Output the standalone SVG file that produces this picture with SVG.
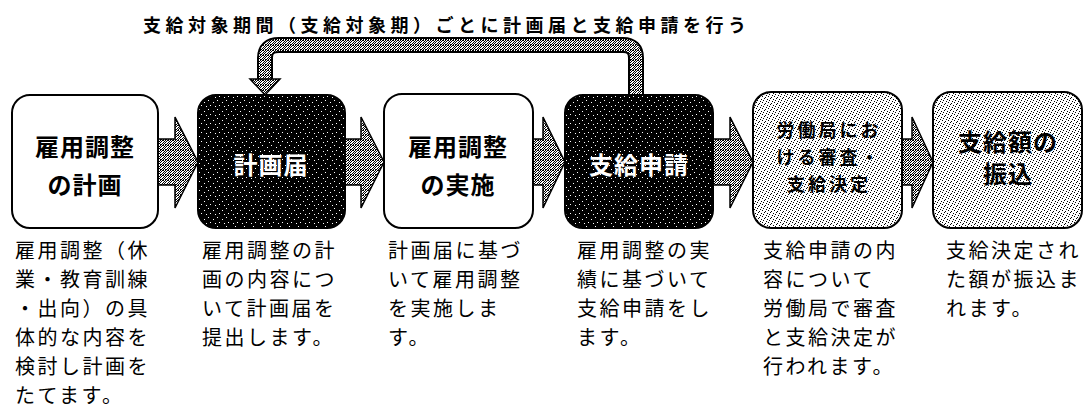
<svg xmlns="http://www.w3.org/2000/svg" width="1087" height="412" viewBox="0 0 1087 412">
<defs>
<pattern id="dense" width="5" height="5" patternUnits="userSpaceOnUse">
<rect width="5" height="5" fill="#fff"/>
<path d="M0 0h1v1h-1zM2 0h1v1h-1zM4 1h1v1h-1zM1 1h1v1h-1zM3 2h1v1h-1zM0 2h1v1h-1zM2 3h1v1h-1zM4 3h1v1h-1zM1 4h1v1h-1zM3 4h1v1h-1zM0 4h1v1h-1zM3 0h1v1h-1z" fill="#000"/>
</pattern>
<pattern id="light" width="6" height="6" patternUnits="userSpaceOnUse">
<rect width="6" height="6" fill="#fff"/>
<path d="M0 0h1v1h-1zM3 1h1v1h-1zM5 3h1v1h-1zM1 4h1v1h-1zM4 5h1v1h-1zM2 2h1v1h-1z" fill="#000"/>
</pattern>
<pattern id="darkp" width="9" height="9" patternUnits="userSpaceOnUse">
<rect width="9" height="9" fill="#000"/>
<path d="M1 1h1v1h-1zM6 3h1v1h-1zM3 6h1v1h-1zM8 7h1v1h-1z" fill="#fff"/>
</pattern>
<style>
.box{stroke:#000;stroke-width:2}
.w{fill:#fff}
.d{fill:url(#darkp)}
.l{fill:url(#light)}
.arr{fill:url(#dense);stroke:#000;stroke-width:1.5}
.lab{font-family:"Noto Sans CJK JP","Noto Sans CJK SC",sans-serif;font-weight:700;text-anchor:middle;dominant-baseline:central}
.big{font-size:24px;letter-spacing:1px}
.mid{font-size:18px;letter-spacing:3px}
.wt{fill:#fff}
.desc{font-family:"Noto Sans CJK JP","Noto Sans CJK SC",sans-serif;font-size:20px;letter-spacing:2.5px;dominant-baseline:central;fill:#000}
.title{font-family:"Noto Sans CJK JP","Noto Sans CJK SC",sans-serif;font-size:18px;font-weight:700;letter-spacing:4.5px;dominant-baseline:central}
</style>
</defs>
<rect width="1087" height="412" fill="#fff"/>
<text class="title" x="143" y="24">支給対象期間（支給対象期）ごとに計画届と支給申請を行う</text>
<g id="connectors">
<path d="M636 95 V58 Q636 45 623 45 H279 Q265 45 265 58 V80" fill="none" stroke="#000" stroke-width="16"/>
<path d="M636 96 V58 Q636 45 623 45 H279 Q265 45 265 58 V81" fill="none" stroke="url(#dense)" stroke-width="12"/>
<polygon class="arr" points="250,79 280,79 265,95"/>
<polygon class="arr" points="158,139 175,139 175,117 198,162 175,208 175,185 158,185"/>
<polygon class="arr" points="345,139 361,139 361,117 384,162 361,208 361,185 345,185"/>
<polygon class="arr" points="533,139 543,139 543,117 565,162 543,208 543,185 533,185"/>
<polygon class="arr" points="713,139 730,139 730,117 753,162 730,208 730,185 713,185"/>
<polygon class="arr" points="902,139 912,139 912,117 933,162 912,208 912,185 902,185"/>
</g>
<g id="n1"><rect class="box w" x="12" y="95" width="146" height="133" rx="18"/><text class="lab big" x="85" y="145">雇用調整</text><text class="lab big" x="85" y="183">の計画</text></g>
<g id="n2"><rect class="box d" x="198" y="95" width="147" height="133" rx="18"/><text class="lab big wt" x="271" y="163">計画届</text></g>
<g id="n3"><rect class="box w" x="384" y="94" width="149" height="134" rx="18"/><text class="lab big" x="458" y="145">雇用調整</text><text class="lab big" x="458" y="183">の実施</text></g>
<g id="n4"><rect class="box d" x="565" y="95" width="148" height="133" rx="18"/><text class="lab big wt" x="639" y="163">支給申請</text></g>
<g id="n5"><rect class="box l" x="753" y="92" width="149" height="136" rx="18"/><text class="lab mid" x="829" y="129">労働局にお</text><text class="lab mid" x="829" y="156">ける審査・</text><text class="lab mid" x="829" y="183">支給決定</text></g>
<g id="n6"><rect class="box l" x="933" y="92" width="149" height="136" rx="18"/><text class="lab big" x="1008" y="140">支給額の</text><text class="lab big" x="1008" y="172">振込</text></g>
<g id="d1" class="desc"><text x="15" y="249">雇用調整（休</text><text x="15" y="278">業・教育訓練</text><text x="15" y="307">・出向）の具</text><text x="15" y="336">体的な内容を</text><text x="15" y="365">検討し計画を</text><text x="15" y="394">たてます。</text></g>
<g id="d2" class="desc"><text x="202" y="249">雇用調整の計</text><text x="202" y="278">画の内容につ</text><text x="202" y="307">いて計画届を</text><text x="202" y="336">提出します。</text></g>
<g id="d3" class="desc"><text x="388" y="249">計画届に基づ</text><text x="388" y="278">いて雇用調整</text><text x="388" y="307">を実施しま</text><text x="388" y="336">す。</text></g>
<g id="d4" class="desc"><text x="577" y="249">雇用調整の実</text><text x="577" y="278">績に基づいて</text><text x="577" y="307">支給申請をし</text><text x="577" y="336">ます。</text></g>
<g id="d5" class="desc"><text x="763" y="249">支給申請の内</text><text x="763" y="278">容について</text><text x="763" y="307">労働局で審査</text><text x="763" y="336">と支給決定が</text><text x="763" y="365">行われます。</text></g>
<g id="d6" class="desc"><text x="946" y="249">支給決定され</text><text x="946" y="278">た額が振込ま</text><text x="946" y="307">れます。</text></g>
</svg>
